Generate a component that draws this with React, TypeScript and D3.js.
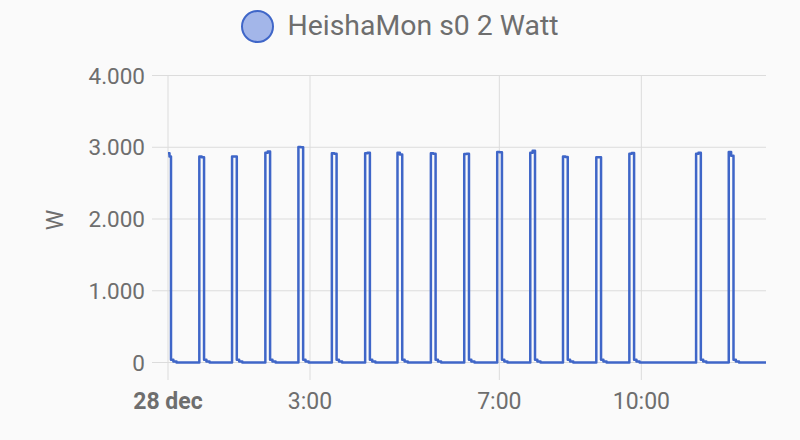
import React from "react";
import * as d3 from "d3";

// Pulse start times (minutes after midnight, 28 dec)
const pulseStart = [0, 39.7, 81.2, 123.4, 165.3, 207.7, 249.9, 290.9, 333.2, 375.5, 417.3, 459.2, 500.7, 542.9, 584.8, 669.4, 710.8];
// Power at the beginning of each pulse (W)
const pulseFirstW = [2916, 2870, 2870, 2925, 3005, 2916, 2916, 2925, 2916, 2907, 2935, 2925, 2870, 2860, 2910, 2910, 2935];
// Power at the end of each pulse (W)
const pulseLastW = [2870, 2860, 2870, 2940, 3000, 2910, 2925, 2900, 2910, 2910, 2930, 2950, 2865, 2860, 2920, 2925, 2880];
// Pulse durations (minutes)
const pulseDur = [3.8, 6, 6, 6, 6, 6, 6, 6, 6, 6, 6, 6, 6, 6, 6, 6, 6];
// Tail after each pulse (W)
const tailW = [40, 40, 40, 40, 40, 40, 40, 40, 40, 40, 40, 40, 40, 40, 40, 40, 40];
const endMinute = 758;

const yTicks = [0, 1000, 2000, 3000, 4000];
const xTicks = [0, 180, 420, 600];
const xTickLabels = ["28 dec", "3:00", "7:00", "10:00"];
const seriesName = "HeishaMon s0 2 Watt";
const yLabel = "W";

type Pt = { t: number; v: number };

export default function App() {
  const W = 800, H = 440;
  const x = d3.scaleLinear().domain([0, endMinute]).range([168, 766]);
  const y = d3.scaleLinear().domain([0, 4000]).range([362.5, 75.5]);

  const pts: Pt[] = [];
  pulseStart.forEach((s, i) => {
    const d = pulseDur[i];
    pts.push({ t: s, v: pulseFirstW[i] });
    pts.push({ t: s + d * 0.5, v: pulseLastW[i] });
    pts.push({ t: s + d, v: tailW[i] });
    pts.push({ t: s + d + 3, v: 15 });
    pts.push({ t: s + d + 7, v: 0 });
  });
  pts.push({ t: endMinute, v: 0 });

  const line = d3
    .line<Pt>()
    .x((d) => x(d.t))
    .y((d) => y(d.v))
    .curve(d3.curveStepAfter);

  const font = "Roboto, 'Noto Sans', sans-serif";
  const textColor = "#6e6e6e";
  const gridColor = "#dcdcdc";
  const blue = "#3f66c8";

  return (
    <div style={{ position: "fixed", left: 0, top: 0 }}>
      <svg width={W} height={H} style={{ display: "block", background: "#fafafa" }}>
        <rect x={0} y={0} width={W} height={H} fill="#fafafa" />
        {/* legend */}
        <circle cx={257.5} cy={26.5} r={15.5} fill="#a3b6e9" stroke={blue} strokeWidth={2} />
        <text x={287.5} y={35} fontFamily={font} fontSize={28.4} fill={textColor}>
          {seriesName}
        </text>
        {/* horizontal grid */}
        {yTicks.map((t) => (
          <g key={"y" + t}>
            <line x1={152} x2={766} y1={y(t)} y2={y(t)} stroke={gridColor} strokeWidth={1} />
            <text x={145} y={y(t)} dy="0.36em" textAnchor="end" fontFamily={font} fontSize={22.5} fill={textColor}>
              {d3.format(",")(t).replace(/,/g, ".")}
            </text>
          </g>
        ))}
        {/* vertical grid */}
        {xTicks.map((t, i) => (
          <g key={"x" + t}>
            <line x1={x(t)} x2={x(t)} y1={75.5} y2={380} stroke={gridColor} strokeWidth={1} />
            <text
              x={x(t)}
              y={408.5}
              textAnchor="middle"
              fontFamily={font}
              fontSize={23}
              fontWeight={i === 0 ? "bold" : "normal"}
              fill={textColor}
            >
              {xTickLabels[i]}
            </text>
          </g>
        ))}
        <text
          transform={`translate(63,220) rotate(-90)`}
          textAnchor="middle"
          fontFamily={font}
          fontSize={23}
          fill={textColor}
        >
          {yLabel}
        </text>
        <path d={line(pts) || ""} fill="none" stroke={blue} strokeWidth={2.5} strokeLinejoin="round" />
      </svg>
    </div>
  );
}
